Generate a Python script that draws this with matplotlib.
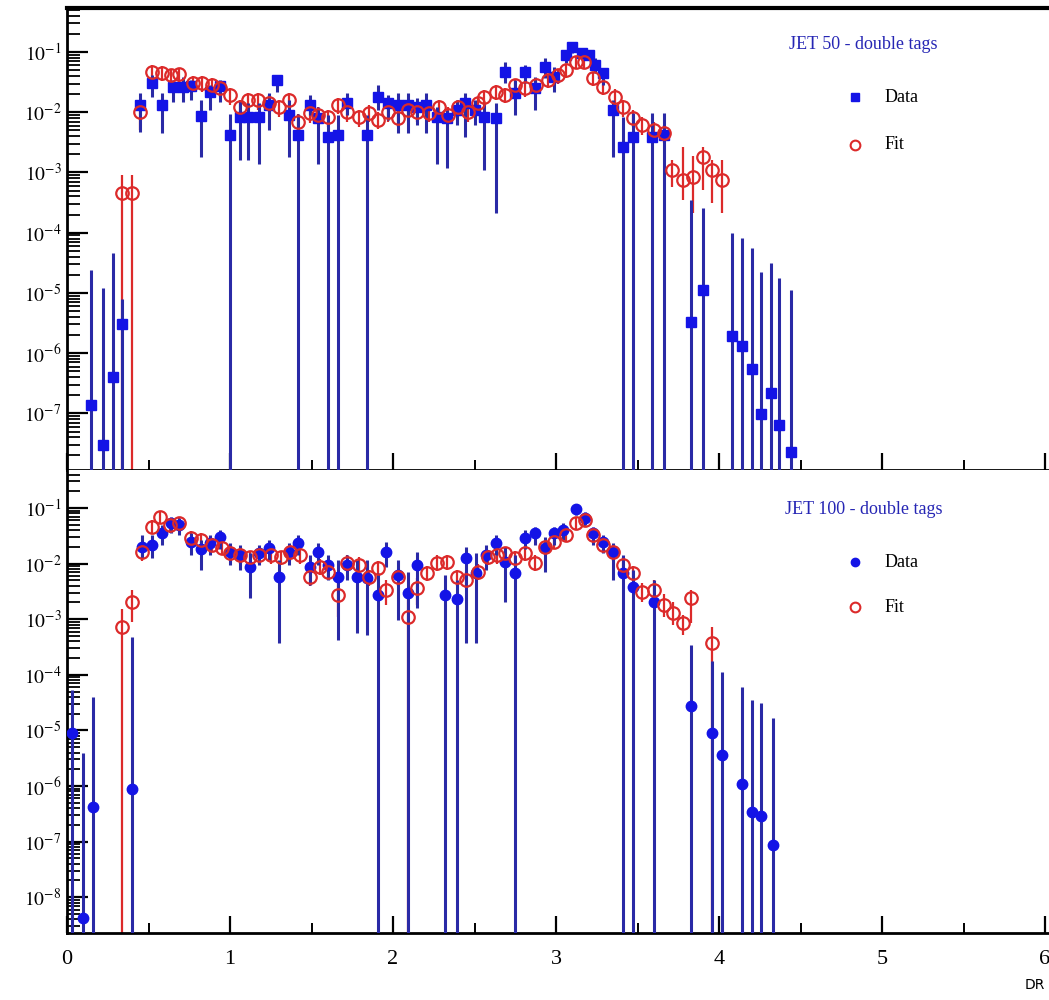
import numpy as np
import matplotlib
matplotlib.use("Agg")
import matplotlib.pyplot as plt
from matplotlib.ticker import FixedLocator, FuncFormatter, MultipleLocator, NullFormatter

plt.rcParams['font.family'] = ['Liberation Serif', 'DejaVu Serif']
plt.rcParams['mathtext.fontset'] = 'stix'

# ---------------- JET 50 - double tags ----------------
d50_dr = [0.15, 0.22, 0.28, 0.34, 0.45, 0.52, 0.58, 0.65, 0.71, 0.76,
          0.82, 0.88, 0.94, 1.00, 1.06, 1.11, 1.18, 1.24, 1.29, 1.36,
          1.42, 1.49, 1.54, 1.60, 1.66, 1.72, 1.84, 1.91, 1.97, 2.03,
          2.09, 2.15, 2.20, 2.27, 2.33, 2.39, 2.44, 2.50, 2.56, 2.63,
          2.69, 2.75, 2.81, 2.87, 2.93, 2.99, 3.06, 3.10, 3.16, 3.20,
          3.24, 3.29, 3.35, 3.41, 3.47, 3.59, 3.66, 3.83, 3.90, 4.08,
          4.14, 4.20, 4.26, 4.32, 4.37, 4.44]
d50 = [1.4e-7, 3.0e-8, 4.0e-7, 3.0e-6, 0.013, 0.031, 0.013, 0.026, 0.026, 0.027,
       0.0086, 0.022, 0.027, 0.0042, 0.0083, 0.0083, 0.0083, 0.013, 0.034, 0.0090,
       0.0042, 0.013, 0.0080, 0.0039, 0.0042, 0.014, 0.0042, 0.018, 0.014, 0.013,
       0.013, 0.012, 0.013, 0.0083, 0.0080, 0.011, 0.014, 0.011, 0.0083, 0.0080,
       0.047, 0.021, 0.047, 0.025, 0.056, 0.038, 0.089, 0.12, 0.096, 0.089,
       0.061, 0.045, 0.011, 0.0026, 0.0039, 0.0039, 0.0042, 3.3e-6, 1.1e-5, 1.9e-6,
       1.3e-6, 5.4e-7, 9.7e-8, 2.2e-7, 6.4e-8, 2.3e-8]
d50_lo = [0, 0, 0, 0, 0.0047, 0.018, 0.0045, 0.015, 0.015, 0.016,
          0.0018, 0.011, 0.015, 0, 0.0016, 0.0016, 0.0014, 0.0051, 0.022, 0.0018,
          0, 0.0090, 0.0014, 0, 0, 0.0090, 0, 0.011, 0.0074, 0.0045,
          0.0045, 0.0061, 0.0045, 0.0014, 0.0012, 0.0061, 0.0039, 0.0061, 0.0011, 2.1e-4,
          0.031, 0.0090, 0.031, 0.011, 0.037, 0.022, 0.066, 0.096, 0.080, 0.074,
          0.045, 0.028, 0.0018, 0, 0, 0, 0, 0, 0, 0,
          0, 0, 0, 0, 0, 0]
d50_hi = [2.4e-5, 1.2e-5, 4.6e-5, 8e-6, 0.021, 0.041, 0.021, 0.034, 0.038, 0.034,
          0.016, 0.028, 0.034, 0.0095, 0.016, 0.014, 0.014, 0.021, 0.041, 0.016,
          0.0095, 0.019, 0.012, 0.0090, 0.0090, 0.021, 0.0090, 0.028, 0.019, 0.021,
          0.021, 0.017, 0.021, 0.012, 0.011, 0.016, 0.021, 0.016, 0.014, 0.014,
          0.068, 0.034, 0.061, 0.038, 0.079, 0.056, 0.11, 0.14, 0.115, 0.108,
          0.079, 0.054, 0.016, 0.0083, 0.0097, 0.0097, 0.0097, 3.5e-4, 2.6e-4, 1.0e-4,
          8.1e-5, 5.5e-5, 2.2e-5, 3.2e-5, 1.8e-5, 1.1e-5]

f50_dr = [0.34, 0.40, 0.45, 0.52, 0.58, 0.64, 0.69, 0.77, 0.83, 0.89,
          0.94, 1.00, 1.06, 1.11, 1.17, 1.24, 1.30, 1.36, 1.42, 1.49,
          1.54, 1.60, 1.66, 1.72, 1.79, 1.85, 1.91, 1.97, 2.03, 2.09,
          2.15, 2.22, 2.28, 2.34, 2.40, 2.46, 2.52, 2.56, 2.63, 2.69,
          2.75, 2.81, 2.88, 2.95, 3.01, 3.06, 3.12, 3.17, 3.23, 3.29,
          3.36, 3.41, 3.47, 3.53, 3.60, 3.66, 3.71, 3.78, 3.84, 3.90,
          3.96, 4.02]
f50 = [4.5e-4, 4.5e-4, 0.010, 0.047, 0.045, 0.041, 0.043, 0.031, 0.031, 0.028,
       0.025, 0.019, 0.012, 0.016, 0.016, 0.014, 0.012, 0.016, 0.0069, 0.0097,
       0.0090, 0.0083, 0.013, 0.010, 0.0083, 0.0097, 0.0074, 0.010, 0.0080, 0.011,
       0.010, 0.0097, 0.012, 0.0090, 0.012, 0.010, 0.014, 0.018, 0.022, 0.019,
       0.028, 0.025, 0.028, 0.034, 0.041, 0.050, 0.068, 0.068, 0.037, 0.026,
       0.018, 0.012, 0.0080, 0.0061, 0.0051, 0.0045, 0.0011, 7.5e-4, 8.4e-4, 0.0018,
       0.0011, 7.5e-4]
f50_lo = [0, 0, 0.0051, 0.034, 0.033, 0.030, 0.031, 0.022, 0.022, 0.020,
          0.018, 0.013, 0.0080, 0.011, 0.011, 0.010, 0.0085, 0.011, 0.0045, 0.0066,
          0.0063, 0.0058, 0.0092, 0.0070, 0.0058, 0.0068, 0.0052, 0.0070, 0.0056, 0.0077,
          0.0070, 0.0068, 0.0085, 0.0063, 0.0085, 0.0070, 0.0099, 0.013, 0.016, 0.014,
          0.020, 0.018, 0.020, 0.025, 0.030, 0.037, 0.052, 0.052, 0.027, 0.019,
          0.013, 0.0084, 0.0056, 0.0042, 0.0035, 0.0031, 5.7e-4, 3.5e-4, 2.1e-4, 5.1e-4,
          3.1e-4, 2.1e-4]
f50_hi = [9.1e-4, 9.1e-4, 0.016, 0.061, 0.058, 0.053, 0.055, 0.040, 0.040, 0.037,
          0.033, 0.025, 0.016, 0.021, 0.021, 0.019, 0.016, 0.021, 0.0095, 0.013,
          0.012, 0.011, 0.017, 0.013, 0.011, 0.013, 0.010, 0.013, 0.011, 0.014,
          0.013, 0.013, 0.016, 0.012, 0.016, 0.013, 0.018, 0.023, 0.028, 0.025,
          0.036, 0.032, 0.036, 0.043, 0.052, 0.063, 0.085, 0.085, 0.047, 0.034,
          0.024, 0.016, 0.011, 0.0082, 0.0069, 0.0062, 0.0016, 0.0026, 0.0019, 0.0026,
          0.0016, 0.0016]

# ---------------- JET 100 - double tags ----------------
d100_dr = [0.03, 0.10, 0.16, 0.40, 0.46, 0.52, 0.58, 0.64, 0.69, 0.76, 0.82,
           0.88, 0.94, 1.00, 1.06, 1.12, 1.18, 1.24, 1.30, 1.36, 1.42,
           1.49, 1.54, 1.60, 1.66, 1.72, 1.78, 1.84, 1.91, 1.96, 2.03,
           2.09, 2.15, 2.32, 2.39, 2.45, 2.51, 2.57, 2.63, 2.69, 2.75,
           2.81, 2.87, 2.93, 2.99, 3.04, 3.12, 3.18, 3.23, 3.29, 3.35,
           3.41, 3.47, 3.60, 3.83, 3.96, 4.02, 4.14, 4.20, 4.26, 4.33]
d100 = [9.0e-6, 4.2e-9, 4.2e-7, 8.8e-7, 0.020, 0.022, 0.035, 0.054, 0.049, 0.024, 0.018,
        0.023, 0.030, 0.016, 0.014, 0.0087, 0.0155, 0.019, 0.0057, 0.016, 0.023,
        0.0087, 0.016, 0.0094, 0.0057, 0.0094, 0.0057, 0.0055, 0.0027, 0.016, 0.0062,
        0.0030, 0.0094, 0.0027, 0.0023, 0.0126, 0.0068, 0.0143, 0.023, 0.0107, 0.0068,
        0.029, 0.035, 0.019, 0.035, 0.040, 0.096, 0.066, 0.035, 0.024, 0.016,
        0.0068, 0.0038, 0.0020, 2.7e-5, 9.0e-6, 3.6e-6, 1.1e-6, 3.4e-7, 2.9e-7, 8.7e-8]
d100_lo = [0, 0, 0, 0, 0.0126, 0.0126, 0.022, 0.035, 0.033, 0.0143, 0.0077,
           0.0143, 0.018, 0.0094, 0.0077, 0.0024, 0.0094, 0.0116, 3.7e-4, 0.0094, 0.0143,
           0.0041, 0.0094, 0.0051, 4.2e-4, 0.0051, 5.7e-4, 5.2e-4, 0, 0.0087, 9.7e-4,
           0, 0.0016, 0, 0, 3.7e-4, 3.7e-4, 0.0077, 0.0143, 0.0020, 0,
           0.018, 0.022, 0.0071, 0.022, 0.027, 0.075, 0.049, 0.022, 0.0155, 0.0051,
           0, 0, 0, 0, 0, 0, 0, 0, 0, 0]
d100_hi = [5.4e-5, 3.9e-6, 4.0e-5, 4.8e-4, 0.033, 0.033, 0.049, 0.069, 0.066, 0.035, 0.027,
           0.033, 0.040, 0.023, 0.022, 0.0155, 0.022, 0.027, 0.0116, 0.023, 0.033,
           0.0143, 0.023, 0.0143, 0.0116, 0.0143, 0.0116, 0.0116, 0.0068, 0.024, 0.0116,
           0.0071, 0.016, 0.0062, 0.0051, 0.020, 0.0155, 0.022, 0.033, 0.020, 0.0143,
           0.040, 0.046, 0.030, 0.046, 0.054, 0.12, 0.085, 0.046, 0.033, 0.023,
           0.0143, 0.0077, 0.0051, 3.4e-4, 1.8e-4, 1.1e-4, 6.0e-5, 3.5e-5, 3.1e-5, 1.7e-5]

f100_dr = [0.34, 0.40, 0.46, 0.52, 0.57, 0.63, 0.69, 0.76, 0.82, 0.89,
           0.95, 1.00, 1.06, 1.12, 1.18, 1.25, 1.31, 1.37, 1.43, 1.49,
           1.55, 1.60, 1.66, 1.72, 1.79, 1.85, 1.91, 1.96, 2.03, 2.09,
           2.15, 2.21, 2.27, 2.33, 2.39, 2.45, 2.52, 2.58, 2.64, 2.69,
           2.75, 2.81, 2.87, 2.93, 2.99, 3.06, 3.12, 3.18, 3.23, 3.29,
           3.35, 3.41, 3.47, 3.53, 3.60, 3.66, 3.72, 3.78, 3.83, 3.96]
f100 = [7.2e-4, 0.0020, 0.016, 0.046, 0.069, 0.049, 0.054, 0.029, 0.027, 0.022,
        0.019, 0.0155, 0.0143, 0.013, 0.0143, 0.0143, 0.013, 0.016, 0.0143, 0.0057,
        0.0087, 0.0071, 0.0027, 0.0103, 0.0094, 0.0057, 0.0083, 0.0034, 0.0057, 0.0011,
        0.0036, 0.0068, 0.0103, 0.0107, 0.0057, 0.0051, 0.0071, 0.013, 0.0143, 0.0155,
        0.0126, 0.0155, 0.0103, 0.020, 0.024, 0.033, 0.054, 0.061, 0.033, 0.022,
        0.016, 0.0094, 0.0068, 0.0031, 0.0034, 0.0018, 0.0013, 8.5e-4, 0.0024, 3.7e-4]
f100_lo = [0, 8.9e-4, 0.011, 0.034, 0.052, 0.036, 0.040, 0.021, 0.020, 0.016,
           0.014, 0.011, 0.010, 0.0094, 0.010, 0.010, 0.0094, 0.011, 0.010, 0.0040,
           0.0062, 0.0050, 0.0011, 0.0074, 0.0067, 0.0040, 0.0059, 0.0018, 0.0040, 0,
           0.0018, 0.0048, 0.0074, 0.0077, 0.0040, 0.0036, 0.0050, 0.0094, 0.010, 0.011,
           0.0090, 0.011, 0.0074, 0.015, 0.018, 0.025, 0.042, 0.047, 0.025, 0.016,
           0.011, 0.0067, 0.0048, 0.0020, 0.0022, 0.0011, 8.0e-4, 5.2e-4, 8.5e-4, 0]
f100_hi = [0.0015, 0.0034, 0.021, 0.060, 0.090, 0.064, 0.070, 0.038, 0.035, 0.029,
           0.025, 0.020, 0.019, 0.017, 0.019, 0.019, 0.017, 0.021, 0.019, 0.0078,
           0.012, 0.0097, 0.0051, 0.014, 0.013, 0.0078, 0.011, 0.0051, 0.0078, 0.0034,
           0.0055, 0.0092, 0.014, 0.014, 0.0078, 0.0070, 0.0097, 0.017, 0.019, 0.020,
           0.017, 0.020, 0.014, 0.026, 0.031, 0.043, 0.069, 0.078, 0.043, 0.029,
           0.021, 0.013, 0.0092, 0.0045, 0.0050, 0.0028, 0.0020, 0.0012, 0.0034, 7.3e-4]

DATA_BLUE = "#1414e6"
ERR_BLUE = "#2a2aa6"
FIT_RED = "#dc2a2a"
TITLE_BLUE = "#2626b4"


def errs(val, lo, hi):
    val, lo, hi = np.asarray(val), np.asarray(lo), np.asarray(hi)
    return [val - lo, hi - val]


W, H = 1049.0, 1000.0
fig = plt.figure(figsize=(10.49, 10.0), dpi=100)
ax_top = fig.add_axes([67 / W, (H - 470) / H, (W - 67) / W, 462 / H])
ax_bot = fig.add_axes([67 / W, (H - 933) / H, (W - 67) / W, 463 / H])


def draw(ax, ddr, dv, dlo, dhi, fdr, fv, flo, fhi, marker, title, ylim, decades):
    ax.set_yscale("log", nonpositive="clip")
    ax.errorbar(fdr, fv, yerr=errs(fv, flo, fhi), fmt="none", ecolor=FIT_RED,
                elinewidth=1.6, capsize=0, zorder=2)
    ax.errorbar(ddr, dv, yerr=errs(dv, dlo, dhi), fmt=marker, color=DATA_BLUE,
                ecolor=ERR_BLUE, elinewidth=2.2, markersize=7.5, capsize=0, zorder=3)
    ax.plot(fdr, fv, "o", mfc="none", mec=FIT_RED, mew=1.6, ms=9, zorder=4)

    ax.set_xlim(0, (W - 67) / 163.0)
    ax.set_ylim(*ylim)

    ax.yaxis.set_major_locator(FixedLocator([10.0 ** e for e in decades]))
    ax.yaxis.set_major_formatter(FuncFormatter(lambda v, p: r"$10^{%d}$" % round(np.log10(v))))
    minors = [m * 10.0 ** e for e in range(-10, 1) for m in range(2, 10)]
    ax.yaxis.set_minor_locator(FixedLocator(minors))
    ax.yaxis.set_minor_formatter(NullFormatter())
    ax.xaxis.set_major_locator(MultipleLocator(1))
    ax.xaxis.set_minor_locator(MultipleLocator(0.5))

    ax.tick_params(axis="y", which="major", direction="in", length=15, width=1.6,
                   labelsize=14, pad=4)
    ax.tick_params(axis="y", which="minor", direction="in", length=9, width=1.3)
    ax.tick_params(axis="x", which="major", direction="in", length=12, width=1.6,
                   labelsize=16, pad=12)
    ax.tick_params(axis="x", which="minor", direction="in", length=7, width=1.4)
    ax.spines["right"].set_visible(False)
    for s in ("left", "bottom"):
        ax.spines[s].set_linewidth(2)

    ax.text(0.811, 0.92 if marker == "s" else 0.914, title, transform=ax.transAxes,
            ha="center", va="center", color=TITLE_BLUE, fontsize=13)
    ly_d, ly_f = (0.807, 0.704) if marker == "s" else (0.801, 0.704)
    ax.plot([0.802], [ly_d], marker, color=DATA_BLUE, ms=6, transform=ax.transAxes,
            clip_on=False)
    ax.plot([0.802], [ly_f], "o", mfc="none", mec=FIT_RED, mew=1.5, ms=7,
            transform=ax.transAxes, clip_on=False)
    ax.text(0.833, ly_d, "Data", transform=ax.transAxes, ha="left", va="center",
            fontsize=13)
    ax.text(0.833, ly_f, "Fit", transform=ax.transAxes, ha="left", va="center",
            fontsize=13)


draw(ax_top, d50_dr, d50, d50_lo, d50_hi, f50_dr, f50, f50_lo, f50_hi, "s",
     "JET 50 - double tags", (10 ** -7.94, 10 ** -0.269), range(-7, 0))
draw(ax_bot, d100_dr, d100, d100_lo, d100_hi, f100_dr, f100, f100_lo, f100_hi, "o",
     "JET 100 - double tags", (10 ** -8.644, 10 ** -0.317), range(-8, 0))

ax_top.spines["top"].set_linewidth(3)
ax_top.tick_params(axis="x", labelbottom=False)
ax_bot.spines["top"].set_visible(False)

fig.text(1035 / W, 1 - 985 / H, "DR", ha="center", va="center", fontsize=10,
         family="DejaVu Sans")

fig.savefig("out.png", dpi=100)
